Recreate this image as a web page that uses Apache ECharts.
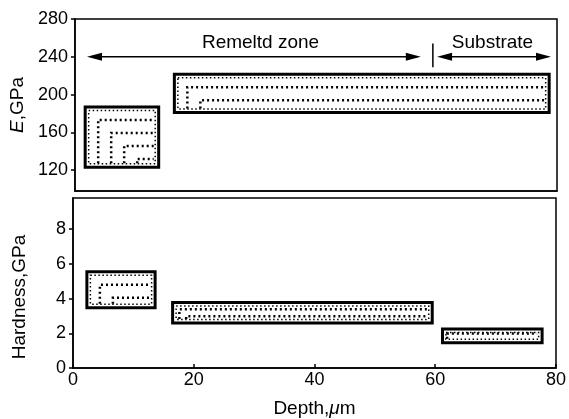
<!DOCTYPE html>
<html>
<head>
<meta charset="utf-8">
<script src="https://cdn.jsdelivr.net/npm/echarts@6/dist/echarts.min.js"></script>
<style>
  html, body { margin: 0; padding: 0; background: #fff; }
  #main { width: 569px; height: 419px; }
</style>
</head>
<body>
<div id="main"></div>
<script>
// modulus boxes (top panel)
const eDepthFrom = [1.7, 16.5];
const eDepthTo = [13.9, 78.7];
const eLow = [123, 181];
const eHigh = [187, 221.5];

// hardness boxes (bottom panel)
const hDepthFrom = [2.3, 16.5, 61.2];
const hDepthTo = [13.6, 59.5, 77.7];
const hLow = [3.48, 2.6, 1.45];
const hHigh = [5.55, 3.77, 2.25];

// zone arrows
const zoneNames = ['Remeltd zone', 'Substrate'];
const zoneFrom = [2.0, 60.1];
const zoneTo = [57.4, 79.0];
const zoneLevel = [240, 240];
const zoneTextDepth = [30.8, 69.3];
const zoneTextLevel = [255, 255];
const boundaryDepth = 59.4;
const boundaryRange = [229, 254];

const depthTicks = [0, 20, 40, 60, 80];
const eTicks = [120, 160, 200, 240, 280];
const hTicks = [0, 2, 4, 6, 8];

const font = "'Liberation Sans', Arial, sans-serif";
const tickFont = { fontFamily: font, fontSize: 18, color: '#000' };
const black = { color: '#000', width: 1.5 };

// box with thick outline and dotted L-shaped fill
function boxItem(params, api) {
  const p0 = api.coord([api.value(0), api.value(3)]);
  const p1 = api.coord([api.value(1), api.value(2)]);
  const x = p0[0], y = p0[1], w = p1[0] - p0[0], h = p1[1] - p0[1];
  const dot = { stroke: '#000', lineWidth: 2.5, lineDash: [2, 3], fill: null };
  const children = [
    { type: 'rect', shape: { x: x, y: y, width: w, height: h }, style: { fill: '#fff', stroke: '#000', lineWidth: 3 } },
    { type: 'rect', shape: { x: x + 3.5, y: y + 3.5, width: w - 7, height: h - 7 }, style: { stroke: '#000', lineWidth: 1.5, lineDash: [1.5, 2.5], fill: null } }
  ];
  const step = h >= 34 ? 13 : h / 3;
  for (let k = 1; step * k <= h - 5; k++) {
    const d = step * k;
    children.push({ type: 'polyline', shape: { points: [[x + d, y + h - 4], [x + d, y + d], [x + w - 5, y + d]] }, style: dot });
  }
  return { type: 'group', children: children };
}

function arrowItem(params, api) {
  const a = api.coord([api.value(0), api.value(2)]);
  const b = api.coord([api.value(1), api.value(2)]);
  const len = 15, hw = 4;
  return {
    type: 'group',
    children: [
      { type: 'line', shape: { x1: a[0] + 5, y1: a[1], x2: b[0] - 5, y2: b[1] }, style: { stroke: '#000', lineWidth: 1.5 } },
      { type: 'polygon', shape: { points: [[a[0], a[1]], [a[0] + len, a[1] - hw], [a[0] + len, a[1] + hw]] }, style: { fill: '#000' } },
      { type: 'polygon', shape: { points: [[b[0], b[1]], [b[0] - len, b[1] - hw], [b[0] - len, b[1] + hw]] }, style: { fill: '#000' } }
    ]
  };
}

function textItem(params, api) {
  const p = api.coord([api.value(0), api.value(1)]);
  return {
    type: 'text',
    x: p[0], y: p[1],
    style: { text: zoneNames[params.dataIndex], fontFamily: font, fontSize: 19, fill: '#000', align: 'center', verticalAlign: 'middle' }
  };
}

function boundaryItem(params, api) {
  const a = api.coord([api.value(0), api.value(1)]);
  const b = api.coord([api.value(0), api.value(2)]);
  return { type: 'line', shape: { x1: a[0], y1: a[1], x2: b[0], y2: b[1] }, style: { stroke: '#000', lineWidth: 1.5 } };
}

const eBoxData = eDepthFrom.map((v, i) => [v, eDepthTo[i], eLow[i], eHigh[i]]);
const hBoxData = hDepthFrom.map((v, i) => [v, hDepthTo[i], hLow[i], hHigh[i]]);
const arrowData = zoneFrom.map((v, i) => [v, zoneTo[i], zoneLevel[i]]);
const textData = zoneTextDepth.map((v, i) => [v, zoneTextLevel[i]]);

const option = {
  backgroundColor: '#fff',
  animation: false,
  grid: [
    { left: 73, right: 12, top: 19, height: 172, show: true, borderColor: '#000', borderWidth: 1.5 },
    { left: 73, right: 12, top: 198, height: 170, show: true, borderColor: '#000', borderWidth: 1.5 }
  ],
  xAxis: [
    {
      gridIndex: 0, type: 'value', min: 0, max: 80, interval: 20,
      axisLine: { lineStyle: black }, axisTick: { show: false }, axisLabel: { show: false }, splitLine: { show: false }
    },
    {
      gridIndex: 1, type: 'value', min: 0, max: 80,
      axisLine: { lineStyle: black },
      axisTick: { inside: true, length: 4, lineStyle: black, customValues: depthTicks },
      axisLabel: Object.assign({ margin: 3, customValues: depthTicks }, tickFont),
      splitLine: { show: false },
      name: 'Depth,{i|μ}m', nameLocation: 'middle', nameGap: 31,
      nameTextStyle: { fontFamily: font, fontSize: 19, color: '#000', rich: { i: { fontFamily: font, fontSize: 19, fontStyle: 'italic', color: '#000' } } }
    }
  ],
  yAxis: [
    {
      gridIndex: 0, type: 'value', min: 98, max: 280,
      axisLine: { lineStyle: black },
      axisTick: { length: 4, lineStyle: black, customValues: eTicks },
      axisLabel: Object.assign({ margin: 7, customValues: eTicks }, tickFont),
      splitLine: { show: false },
      name: '{i|E},GPa', nameLocation: 'middle', nameGap: 44,
      nameTextStyle: { fontFamily: font, fontSize: 19, color: '#000', rich: { i: { fontFamily: font, fontSize: 19, fontStyle: 'italic', color: '#000' } } }
    },
    {
      gridIndex: 1, type: 'value', min: 0, max: 9.8,
      axisLine: { lineStyle: black },
      axisTick: { length: 4, lineStyle: black, customValues: hTicks },
      axisLabel: Object.assign({ margin: 7, customValues: hTicks }, tickFont),
      splitLine: { show: false },
      name: 'Hardness,GPa', nameLocation: 'middle', nameGap: 44,
      nameTextStyle: { fontFamily: font, fontSize: 19, color: '#000', padding: [0, 28, 0, 0] }
    }
  ],
  series: [
    { type: 'custom', xAxisIndex: 0, yAxisIndex: 0, renderItem: boxItem, data: eBoxData, clip: true },
    { type: 'custom', xAxisIndex: 1, yAxisIndex: 1, renderItem: boxItem, data: hBoxData, clip: true },
    { type: 'custom', xAxisIndex: 0, yAxisIndex: 0, renderItem: arrowItem, data: arrowData },
    { type: 'custom', xAxisIndex: 0, yAxisIndex: 0, renderItem: textItem, data: textData },
    { type: 'custom', xAxisIndex: 0, yAxisIndex: 0, renderItem: boundaryItem, data: [[boundaryDepth, boundaryRange[0], boundaryRange[1]]] }
  ]
};

const chart = echarts.init(document.getElementById('main'));
chart.setOption(option);
</script>
</body>
</html>
